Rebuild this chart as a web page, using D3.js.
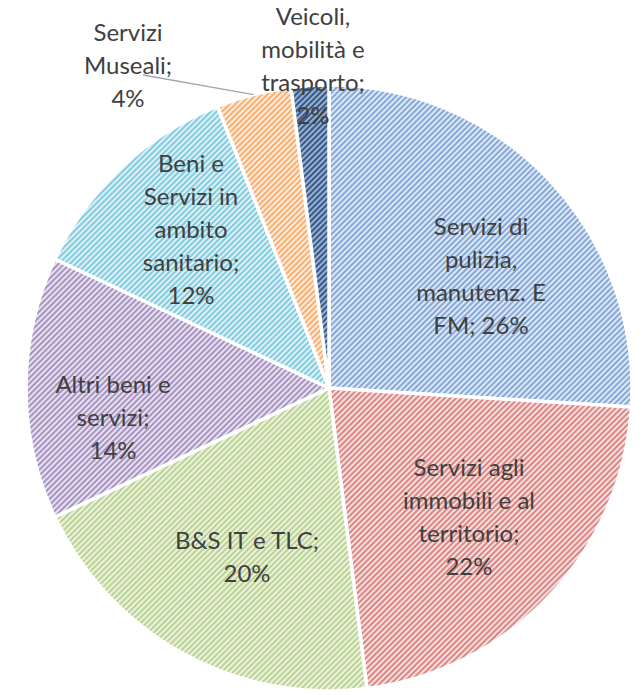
<!DOCTYPE html>
<html><head><meta charset="utf-8">
<script src="https://cdn.jsdelivr.net/npm/d3@7"></script>
<style>html,body{margin:0;padding:0;background:#fff;}svg{display:block;}</style>
</head><body>
<script>
const categories = ["Servizi di pulizia, manutenz. E FM","Servizi agli immobili e al territorio","B&S IT e TLC","Altri beni e servizi","Beni e Servizi in ambito sanitario","Servizi Museali","Veicoli, mobilità e trasporto"];
const values = [26, 22, 20, 14, 12, 4, 2];
const labelLines = [
  ["Servizi di","pulizia,","manutenz. E","FM; 26%"],
  ["Servizi agli","immobili e al","territorio;","22%"],
  ["B&S IT e TLC;","20%"],
  ["Altri beni e","servizi;","14%"],
  ["Beni e","Servizi in","ambito","sanitario;","12%"],
  ["Servizi","Museali;","4%"],
  ["Veicoli,","mobilità e","trasporto;","2%"]
];
const fgColors = ["#86A9D8","#D98886","#BBD393","#A794C3","#84CCDF","#F8AF74","#35598A"];
const bgColors = ["#DDE7F5","#F6DEDD","#EBF2DE","#E7E1EE","#DCF0F6","#FEEBDB","#9AB0CD"];

// layout (not data)
const W = 644, H = 695, cx = 329, cy = 388, R = 303;
const labelOffsets = [[152,-112],[140,129],[-82,169],[-216,30],[-138,-158],[-201,-322],[-16,-322]];
const lineH = 33;

const svg = d3.select("body").append("svg").attr("width",W).attr("height",H);
const defs = svg.append("defs");
values.forEach((v,i)=>{
  const p = defs.append("pattern").attr("id","pat"+i).attr("patternUnits","userSpaceOnUse")
    .attr("width",4).attr("height",4).attr("patternTransform","rotate(45)");
  p.append("rect").attr("width",4).attr("height",4).attr("fill",bgColors[i]);
  p.append("rect").attr("width",2).attr("height",4).attr("fill",fgColors[i]);
});

const pie = d3.pie().sort(null).value(d=>d)(values);
const arc = d3.arc().innerRadius(0).outerRadius(R);
const g = svg.append("g").attr("transform",`translate(${cx},${cy})`);
g.selectAll("path").data(pie).join("path")
  .attr("d",arc).attr("fill",(d,i)=>`url(#pat${i})`)
  .attr("stroke","#fff").attr("stroke-width",3.5).attr("stroke-linejoin","round");

// leader line for Servizi Museali
const mid5 = (pie[5].startAngle+pie[5].endAngle)/2;
g.append("line")
  .attr("x1",labelOffsets[5][0]+15).attr("y1",labelOffsets[5][1]+9)
  .attr("x2",Math.sin(mid5)*R*1.0).attr("y2",-Math.cos(mid5)*R*1.0)
  .attr("stroke","#A6A6A6").attr("stroke-width",1.3);

labelLines.forEach((lines,i)=>{
  const [ox,oy] = labelOffsets[i];
  const t = g.append("text").attr("text-anchor","middle")
    .attr("font-family","Lato, 'Open Sans', sans-serif").attr("font-size",24)
    .attr("fill","#404040");
  const n = lines.length;
  lines.forEach((l,k)=>{
    t.append("tspan").attr("x",ox).attr("y",oy + (k-(n-1)/2)*lineH + 8).text(l);
  });
});
</script>
</body></html>
